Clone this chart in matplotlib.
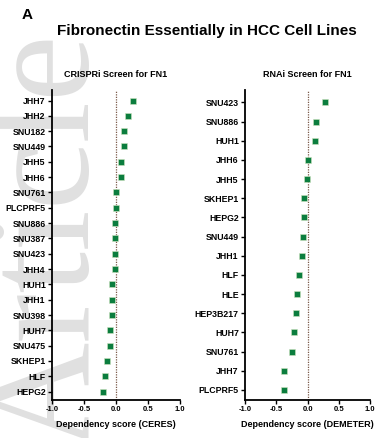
import matplotlib
matplotlib.use('Agg')
import matplotlib.pyplot as plt

# CRISPRi screen (CERES scores)
crispr_lines = ['JHH7', 'JHH2', 'SNU182', 'SNU449', 'JHH5', 'JHH6', 'SNU761',
                'PLCPRF5', 'SNU886', 'SNU387', 'SNU423', 'JHH4', 'HUH1', 'JHH1',
                'SNU398', 'HUH7', 'SNU475', 'SKHEP1', 'HLF', 'HEPG2']
crispr_scores = [0.26, 0.18, 0.12, 0.12, 0.08, 0.07, 0.005, 0.0, -0.01, -0.01,
                 -0.02, -0.02, -0.06, -0.06, -0.07, -0.09, -0.10, -0.14, -0.17, -0.20]

# RNAi screen (DEMETER scores)
rnai_lines = ['SNU423', 'SNU886', 'HUH1', 'JHH6', 'JHH5', 'SKHEP1', 'HEPG2',
              'SNU449', 'JHH1', 'HLF', 'HLE', 'HEP3B217', 'HUH7', 'SNU761',
              'JHH7', 'PLCPRF5']
rnai_scores = [0.28, 0.13, 0.11, 0.01, -0.01, -0.06, -0.06, -0.08, -0.09,
               -0.14, -0.17, -0.19, -0.21, -0.25, -0.37, -0.38]

xticks = [-1.0, -0.5, 0.0, 0.5, 1.0]
green = '#0b7d3e'

plt.rcParams['font.family'] = 'Liberation Sans'
fig = plt.figure(figsize=(3.77, 4.38), dpi=100)

# faint watermark behind everything
fig.text(0.232, 0.45, 'Article', rotation=90, rotation_mode='anchor', fontsize=108,
         family=['Liberation Serif', 'DejaVu Serif'], color='#e0e0e0',
         ha='center', va='baseline', zorder=-5)

fig.text(0.072, 0.965, 'A', fontsize=11, fontweight='bold', ha='center', va='center')
fig.text(0.548, 0.930, 'Fibronectin Essentially in HCC Cell Lines', fontsize=11,
         fontweight='bold', ha='center', va='center')


def panel(rect, names, scores, title, xlabel, pad_top, pad_bot):
    ax = fig.add_axes(rect)
    ax.patch.set_alpha(0)
    pos = list(range(len(names)))
    ax.axvline(0, color='#7a5a4a', linestyle=(0, (1, 1)), linewidth=0.9, zorder=1)
    ax.scatter(scores, pos, marker='s', s=22, color=green, edgecolor='#cfe3c0',
               linewidth=0.4, zorder=3)
    ax.set_xlim(-1, 1)
    ax.set_ylim(len(names) - 1 + pad_bot, -pad_top)
    ax.set_yticks(pos)
    ax.set_yticklabels(names, fontsize=6.3, fontweight='bold')
    ax.set_xticks(xticks)
    ax.set_xticklabels(['%.1f' % t for t in xticks], fontsize=5.5, fontweight='bold')
    ax.tick_params(axis='both', length=3, width=1, pad=1.5)
    for s in ['top', 'right']:
        ax.spines[s].set_visible(False)
    for s in ['left', 'bottom']:
        ax.spines[s].set_linewidth(1.3)
    ax.set_xlabel(xlabel, fontsize=6.5, fontweight='bold', labelpad=5)
    ax.set_title(title, fontsize=6.5, fontweight='bold', pad=9)
    return ax


panel([0.138, 0.087, 0.340, 0.708], crispr_lines, crispr_scores,
      'CRISPRi Screen for FN1', 'Dependency score (CERES)', 0.7, 0.54)
panel([0.650, 0.087, 0.332, 0.708], rnai_lines, rnai_scores,
      'RNAi Screen for FN1', 'Dependency score (DEMETER)', 0.66, 0.52)

fig.savefig('out.png', dpi=100)
